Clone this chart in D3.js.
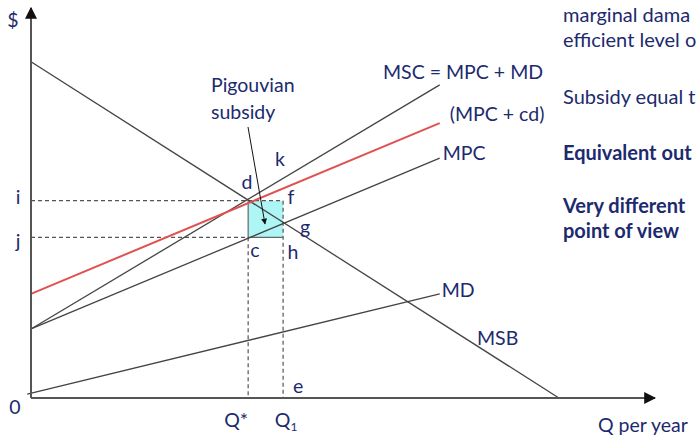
<!DOCTYPE html>
<html>
<head>
<meta charset="utf-8">
<script src="https://cdn.jsdelivr.net/npm/d3@7"></script>
<style>
  body { margin: 0; background: #fff; overflow: hidden; }
  svg { display: block; font-family: Lato, "Open Sans", sans-serif; }
  .lbl { fill: #1c2a6e; font-size: 19.5px; }
  .note { font-size: 20px; }
</style>
</head>
<body>
<div id="chart"></div>
<script>
// curves as [Q, $] end points
const msb = [[0, 86.2], [84.6, 0]];
const mpc = [[0, 17.7], [65.5, 61.5]];
const msc = [[0, 17.7], [65.5, 80.3]];
const mpcCd = [[0, 26.7], [65.5, 70.5]];
const md = [[-0.6, 1.0], [65.5, 26.7]];

const qStar = 34.8, q1 = 40.4;
const priceI = 50.6, priceJ = 41.2;

// only the part of the side text that is visible in the frame
const sideNotes = ["marginal dama", "efficient level o", "Subsidy equal t", "Equivalent out", "Very different", "point of view"];

const W = 696, H = 436;
const svg = d3.select("#chart").append("svg")
  .attr("width", W).attr("height", H);

const x = d3.scaleLinear().domain([0, 100]).range([31, 655]);
const y = d3.scaleLinear().domain([0, 100]).range([398, 8]);

const line = d3.line().x(d => x(d[0])).y(d => y(d[1]));

svg.append("defs").append("marker")
  .attr("id", "arr").attr("viewBox", "0 0 10 10")
  .attr("refX", 9).attr("refY", 5)
  .attr("markerWidth", 6).attr("markerHeight", 6)
  .attr("orient", "auto-start-reverse")
  .append("path").attr("d", "M0,0L10,5L0,10z").attr("fill", "#111");

// subsidy box
svg.append("rect")
  .attr("x", x(qStar)).attr("y", y(priceI))
  .attr("width", x(q1) - x(qStar)).attr("height", y(priceJ) - y(priceI))
  .attr("fill", "#aef6f6");

// dashed guides
const dash = svg.append("g").attr("stroke", "#555").attr("stroke-width", 1.2)
  .attr("stroke-dasharray", "4,3").attr("fill", "none");
dash.append("line").attr("x1", x(0)).attr("x2", x(q1)).attr("y1", y(priceI)).attr("y2", y(priceI));
dash.append("line").attr("x1", x(0)).attr("x2", x(qStar)).attr("y1", y(priceJ)).attr("y2", y(priceJ));
dash.append("line").attr("x1", x(qStar)).attr("x2", x(qStar)).attr("y1", y(priceJ)).attr("y2", y(0));
dash.append("line").attr("x1", x(q1)).attr("x2", x(q1)).attr("y1", y(priceI)).attr("y2", y(0));

// solid box edges
svg.append("path")
  .attr("d", `M${x(qStar)},${y(priceI)}V${y(priceJ)}H${x(q1)}`)
  .attr("stroke", "#666").attr("stroke-width", 1.2).attr("fill", "none");

// curves
[msb, mpc, msc, md].forEach(c => {
  svg.append("path").attr("d", line(c))
    .attr("stroke", "#444").attr("stroke-width", 1.3).attr("fill", "none");
});
svg.append("path").attr("d", line(mpcCd))
  .attr("stroke", "#e05252").attr("stroke-width", 2).attr("fill", "none");

// axes
svg.append("line").attr("x1", x(0)).attr("x2", x(0)).attr("y1", y(0)).attr("y2", y(100))
  .attr("stroke", "#555").attr("stroke-width", 2).attr("marker-end", "url(#arr)");
svg.append("line").attr("x1", x(0)).attr("x2", x(100)).attr("y1", y(0)).attr("y2", y(0))
  .attr("stroke", "#555").attr("stroke-width", 2).attr("marker-end", "url(#arr)");

// pointer arrow
svg.append("line").attr("x1", 248).attr("y1", 127).attr("x2", 265).attr("y2", 224)
  .attr("stroke", "#111").attr("stroke-width", 1).attr("marker-end", "url(#arr)");

function label(t, px, py, anchor) {
  return svg.append("text").attr("class", "lbl")
    .attr("x", px).attr("y", py).attr("dy", "0.35em")
    .attr("text-anchor", anchor || "start").text(t);
}

label("$", 13, 20, "middle");
label("0", 15, 407, "middle");
label("i", 18, 197, "middle");
label("j", 18, 241, "middle");
label("Q*", x(qStar) - 12, 420, "middle");
const q1t = label("Q", x(q1) + 3, 420, "middle");
q1t.append("tspan").attr("font-size", 12).attr("dy", "0.35em").text("1");
label("e", x(q1) + 15, 386, "middle");
label("Q per year", 598, 425);

label("d", 247, 182, "middle");
label("k", 280, 159, "middle");
label("f", 291, 197, "middle");
label("g", 305, 227, "middle");
label("c", 255, 250, "middle");
label("h", 293, 252, "middle");

label("Pigouvian", 211, 85);
label("subsidy", 211, 112);

label("MSC = MPC + MD", 383, 72);
label("(MPC + cd)", x(mpcCd[1][0]) + 10, 114);
label("MPC", x(mpc[1][0]) + 3, 153);
label("MD", x(md[1][0]) + 2, 290);
label("MSB", 477, 338);

const noteY = [15, 40, 97, 153, 206, 231];
sideNotes.forEach((t, i) => {
  label(t, 563, noteY[i]).classed("note", true)
    .attr("font-weight", i >= 3 ? "bold" : null);
});
</script>
</body>
</html>
